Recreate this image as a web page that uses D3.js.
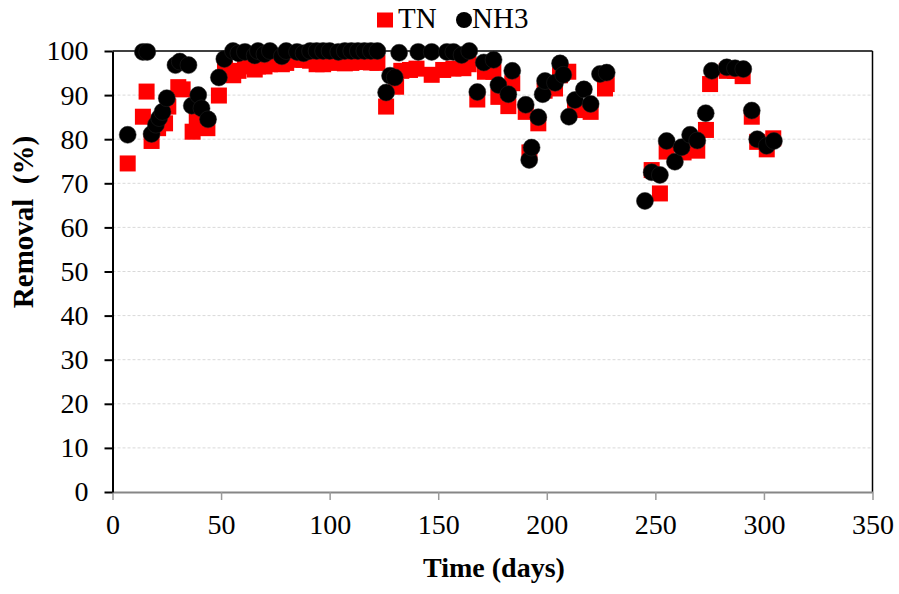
<!DOCTYPE html>
<html><head><meta charset="utf-8">
<script src="https://cdn.jsdelivr.net/npm/d3@7"></script>
<style>body{margin:0;background:#fff}svg{display:block}text{font-family:"Liberation Serif","Times New Roman",serif}</style>
</head><body><svg id="c" width="899" height="594"></svg>
<script>
const seriesNames = ["TN", "NH3"];
const xTicks = [0, 50, 100, 150, 200, 250, 300, 350];
const yTicks = [0, 10, 20, 30, 40, 50, 60, 70, 80, 90, 100];
const xTitle = "Time (days)";
const yTitle = "Removal  (%)";

const tnDays = [7, 14, 15.7, 18, 21, 24.2, 25.7, 30.3, 32.3, 36.9, 38.8, 43.7, 49, 51.8, 55.6,
  58, 61, 65.5, 67, 70, 72.5, 78, 80, 85, 88, 91, 94, 97, 100, 104, 107, 110, 113, 116, 119, 122,
  126, 130.6, 133, 137, 140, 147, 152.3, 157, 161.6, 164, 168, 171.5, 175.4, 177.7, 182.3, 184.1,
  190.3, 192, 196.1, 199, 203.8, 206.1, 209.9, 213, 215.3, 220.2, 226.8, 227.6,
  248.3, 252.1, 255.2, 263, 269.3, 273.3, 275.2, 282.9, 286.7, 290.2, 294.4, 296.9, 301.3, 304.3];
const tnValues = [74.5, 85.1, 90.8, 79.6, 82.5, 83.6, 87.4, 91.8, 91.3, 81.7, 84.4, 82.5, 89.9, 96, 94.5,
  95.5, 96.5, 95.8, 96.5, 96.5, 97, 97, 97.3, 98, 98, 97.8, 97, 97, 97.3, 97.5, 97.2, 97.3, 97.5, 97.5, 97.4, 97.3,
  87.4, 91.9, 95.5, 95.7, 96, 94.6, 95.7, 96, 96.1, 97, 89.0, 95.3, 95.3, 89.6, 87.5, 92.7,
  86.2, 77, 83.6, 91, 91.5, 94.5, 95.3, 87.5, 86.6, 86.2, 91.5, 92.5,
  73.0, 67.7, 77.2, 77.0, 77.4, 82.1, 92.5, 95.5, 95.5, 94.3, 85.1, 79.4, 77.7, 80.2];

const nh3Days = [7, 14, 16, 18, 20, 21.5, 23, 25, 29, 31, 35, 36.5, 39.5, 41, 44, 49, 51.5, 55.5,
  58, 61, 65.5, 67, 70, 72.5, 78, 80, 85, 88, 91, 94, 97, 100, 104, 107, 110, 113, 116, 119, 122,
  126, 127.8, 130, 132, 140.8, 147, 154, 157, 160.8, 164.3, 168, 171, 175.5, 177.7, 182.3, 184.1,
  190.3, 191.9, 193, 196.1, 198.1, 199.2, 203.8, 206.1, 207.6, 210.2, 213, 217.1, 220.2, 224.5, 227.6,
  245.2, 248.3, 252.1, 255.2, 259, 262.1, 266, 269.3, 273.2, 276, 282.9, 286.7, 290.5, 294.4, 296.9, 301.3, 304.6];
const nh3Values = [81.0, 99.8, 99.8, 81.2, 83.3, 84.8, 86.2, 89.3, 96.8, 97.6, 96.8, 87.6, 90.0, 87.0, 84.5, 94.0, 98.2, 100,
  99.5, 99.8, 99.0, 100, 99.3, 100, 98.8, 100, 99.8, 99.5, 100, 100, 100, 100, 99.8, 100, 100, 100, 100, 100, 100,
  90.6, 94.4, 94.0, 99.6, 99.8, 99.8, 99.8, 99.8, 99.1, 100, 90.7, 97.4, 98.0, 92.3, 90.2, 95.5,
  87.8, 75.3, 78.1, 85.0, 90.2, 93.2, 92.8, 97.2, 94.6, 85.1, 88.9, 91.3, 88.0, 94.8, 95.1,
  66.0, 72.5, 71.9, 79.6, 74.9, 78.2, 81.0, 79.7, 85.9, 95.5, 96.3, 96.1, 95.9, 86.5, 80.0, 78.5, 79.6];

const svg = d3.select("#c");
const font = "\"Liberation Serif\", \"Times New Roman\", serif";
const x = d3.scaleLinear().domain([0, 350]).range([112.5, 872.5]);
const y = d3.scaleLinear().domain([0, 100]).range([492, 51]);

// gridlines
svg.append("g").selectAll("line").data(yTicks.filter(v => v > 0 && v < 100)).join("line")
  .attr("x1", x(0)).attr("x2", x(350)).attr("y1", d => y(d)).attr("y2", d => y(d))
  .attr("stroke", "#d9d9d9").attr("stroke-width", 1).attr("stroke-dasharray", "3,2");

// plot border top/right
svg.append("line").attr("x1", x(0)).attr("x2", x(350)).attr("y1", y(100)).attr("y2", y(100))
  .attr("stroke", "#000").attr("stroke-width", 1.5);
svg.append("line").attr("x1", x(350)).attr("x2", x(350)).attr("y1", y(100)).attr("y2", y(0))
  .attr("stroke", "#000").attr("stroke-width", 1.5);

// x axis
const gx = svg.append("g").attr("transform", `translate(0,${y(0)})`)
  .call(d3.axisBottom(x).tickValues(xTicks).tickSize(8).tickSizeOuter(0).tickPadding(14).tickFormat(d3.format("d")));
gx.attr("font-family", null);
gx.select(".domain").attr("stroke", "#868686").attr("stroke-width", 2);
gx.selectAll(".tick line").attr("stroke", "#9a9a9a").attr("stroke-width", 1.5);
gx.selectAll(".tick text").style("font-family", font).attr("font-size", 28).attr("fill", "#000");

// y axis
const gy = svg.append("g").attr("transform", `translate(${x(0)},0)`)
  .call(d3.axisLeft(y).tickValues(yTicks).tickSize(8).tickSizeOuter(0).tickPadding(16).tickFormat(d3.format("d")));
gy.attr("font-family", null);
gy.select(".domain").attr("stroke", "#000").attr("stroke-width", 2);
gy.selectAll(".tick line").attr("stroke", "#000").attr("stroke-width", 2);
gy.selectAll(".tick text").style("font-family", font).attr("font-size", 28).attr("fill", "#000");

// TN squares, NH3 circles
const tn = tnDays.map((d, i) => ({d, v: tnValues[i]}));
const nh3 = nh3Days.map((d, i) => ({d, v: nh3Values[i]}));
const sq = 16;
svg.append("g").selectAll("rect").data(tn).join("rect")
  .attr("x", p => x(p.d) - sq / 2).attr("y", p => y(p.v) - sq / 2)
  .attr("width", sq).attr("height", sq).attr("fill", "#ff0000");
svg.append("g").selectAll("circle").data(nh3).join("circle")
  .attr("cx", p => x(p.d)).attr("cy", p => y(p.v)).attr("r", 8.5)
  .attr("fill", "#000").attr("stroke", "#222").attr("stroke-width", 0.5);

// titles
svg.append("text").attr("x", 494).attr("y", 577).attr("text-anchor", "middle")
  .style("font-family", font).attr("font-weight", "bold").attr("font-size", 28).text(xTitle);
svg.append("text").attr("transform", "translate(33,222) rotate(-90)").attr("text-anchor", "middle")
  .style("font-family", font).attr("font-weight", "bold").attr("font-size", 29).style("white-space", "pre")
  .text(yTitle);

// legend
const lg = svg.append("g");
lg.append("rect").attr("x", 377).attr("y", 12.5).attr("width", 16).attr("height", 15).attr("fill", "#ff0000");
lg.append("text").attr("x", 398).attr("y", 28).style("font-family", font).attr("font-size", 29).text(seriesNames[0]);
lg.append("circle").attr("cx", 464).attr("cy", 20).attr("r", 8).attr("fill", "#000");
lg.append("text").attr("x", 472).attr("y", 28).style("font-family", font).attr("font-size", 29).text(seriesNames[1]);
</script></body></html>
